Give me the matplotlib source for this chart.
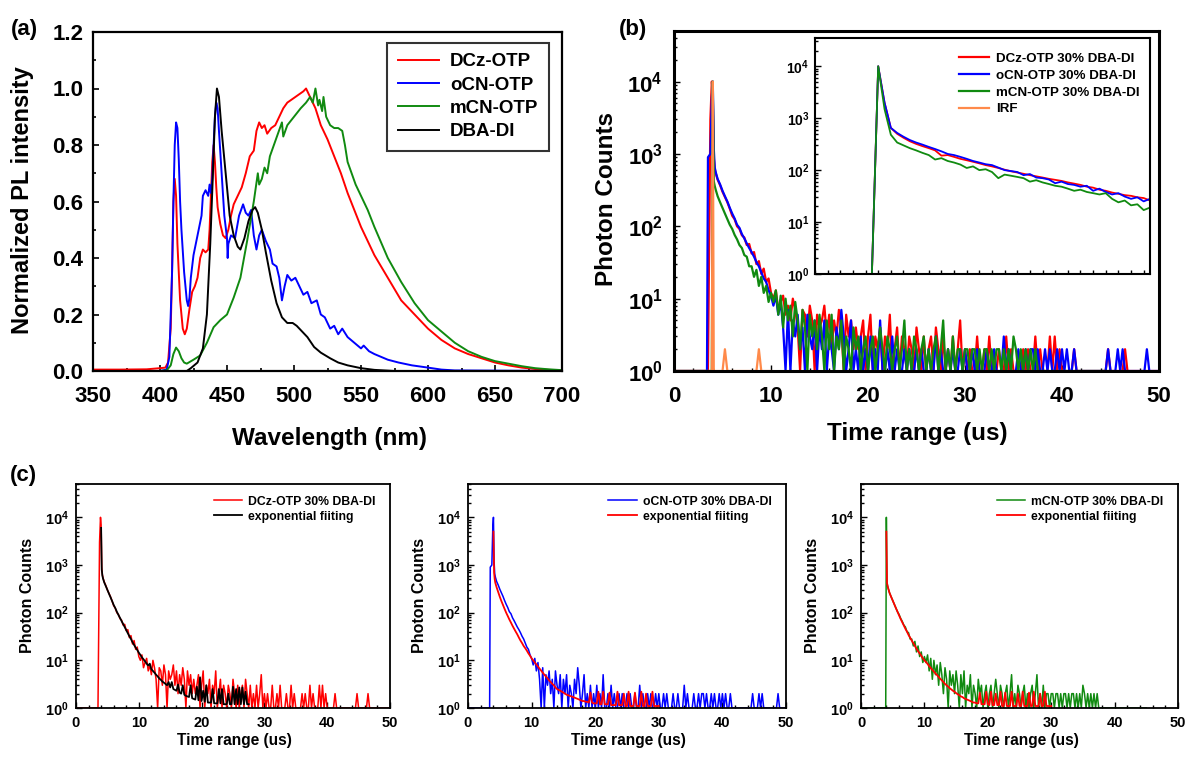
import numpy as np
import matplotlib
matplotlib.use('Agg')
import matplotlib.pyplot as plt
from matplotlib.ticker import MultipleLocator, FixedLocator, LogLocator, FuncFormatter, NullFormatter

plt.rcParams['font.family'] = ['Liberation Sans', 'DejaVu Sans']
plt.rcParams['font.weight'] = 'bold'
plt.rcParams['axes.labelweight'] = 'bold'
plt.rcParams['mathtext.fontset'] = 'custom'
plt.rcParams['mathtext.rm'] = 'Liberation Sans:bold'
plt.rcParams['mathtext.bf'] = 'Liberation Sans:bold'
plt.rcParams['mathtext.it'] = 'Liberation Sans:bold'

RED = '#FF0000'
BLUE = '#0000FF'
GREEN = '#108A10'
ORANGE = '#FF8A4A'
BLACK = '#000000'

# ---------------- (a) PL spectra ----------------
wl_dcz = [350, 370, 390, 400, 404, 406, 408, 409, 410, 411, 412, 413, 415, 417, 418.5, 420, 422, 424, 426, 428,
          430, 432, 434, 436, 437, 438, 439, 440, 441, 442, 443, 445, 447, 449, 451, 453, 455, 458, 461, 464,
          467, 470, 472, 474, 476, 478, 480, 483, 486, 489, 492, 495, 498, 501, 504, 507, 509, 511, 513, 516,
          520, 525, 530, 535, 540, 545, 550, 555, 560, 565, 570, 580, 590, 600, 610, 620, 630, 640, 650, 660,
          670, 680, 690, 700]
pl_dcz = [0.005, 0.005, 0.006, 0.01, 0.012, 0.03, 0.15, 0.35, 0.6, 0.68, 0.62, 0.45, 0.25, 0.15, 0.13, 0.15, 0.22, 0.28, 0.30, 0.33,
          0.40, 0.43, 0.42, 0.43, 0.50, 0.62, 0.74, 0.80, 0.74, 0.65, 0.58, 0.52, 0.48, 0.47, 0.50, 0.55, 0.59, 0.62, 0.65, 0.70,
          0.76, 0.78, 0.85, 0.88, 0.86, 0.87, 0.84, 0.86, 0.87, 0.90, 0.93, 0.95, 0.96, 0.97, 0.98, 0.99, 1.0, 0.98, 0.96, 0.93,
          0.87, 0.82, 0.76, 0.70, 0.63, 0.57, 0.51, 0.46, 0.41, 0.37, 0.33, 0.25, 0.20, 0.15, 0.11, 0.08, 0.06, 0.045, 0.03, 0.02,
          0.012, 0.007, 0.004, 0.002]

wl_ocn = [350, 400, 405, 407, 408, 409, 410, 411, 412, 413, 414, 415, 416, 418, 420, 421, 422, 423, 425, 428,
          431, 432, 434, 436, 437, 438, 439, 440, 441, 442, 443, 444, 446, 448, 450, 450.5, 451, 453, 456, 459,
          462, 464, 466, 468, 470, 472, 474, 476, 479, 482, 484, 487, 489, 491, 493, 495, 498, 501, 504, 507,
          510, 513, 517, 520, 523, 527, 530, 533, 536, 540, 545, 550, 552, 556, 560, 565, 570, 578, 588, 600,
          610, 620, 700]
pl_ocn = [0.0, 0.0, 0.005, 0.05, 0.2, 0.35, 0.6, 0.8, 0.88, 0.86, 0.75, 0.6, 0.5, 0.35, 0.25, 0.23, 0.26, 0.33, 0.41, 0.48,
          0.55, 0.62, 0.64, 0.62, 0.66, 0.63, 0.68, 0.80, 0.90, 0.95, 0.93, 0.85, 0.70, 0.55, 0.47, 0.40, 0.45, 0.48, 0.47, 0.55,
          0.59, 0.56, 0.55, 0.57, 0.48, 0.43, 0.48, 0.50, 0.46, 0.43, 0.38, 0.37, 0.33, 0.25, 0.30, 0.34, 0.32, 0.33, 0.30, 0.27,
          0.28, 0.24, 0.25, 0.20, 0.19, 0.15, 0.16, 0.13, 0.15, 0.12, 0.10, 0.08, 0.09, 0.07, 0.06, 0.05, 0.04, 0.03, 0.02, 0.012,
          0.005, 0.002, 0.0]

wl_mcn = [350, 400, 405, 408, 410, 412, 414, 416, 418, 420, 425, 430, 435, 440, 445, 450, 455, 460, 465, 470,
          473, 474, 476, 478, 480, 482, 485, 488, 491, 492, 495, 500, 505, 509, 512, 514, 516, 518, 519, 521,
          522, 524, 527, 530, 533, 536, 538, 540, 543, 546, 550, 555, 560, 570, 580, 590, 600, 610, 620, 630,
          640, 650, 660, 670, 680, 690, 700]
pl_mcn = [0.0, 0.0, 0.002, 0.02, 0.06, 0.083, 0.07, 0.045, 0.03, 0.026, 0.04, 0.055, 0.10, 0.155, 0.18, 0.20, 0.26, 0.33, 0.46, 0.60,
          0.70, 0.66, 0.68, 0.72, 0.70, 0.76, 0.80, 0.84, 0.88, 0.83, 0.87, 0.90, 0.93, 0.95, 0.97, 0.95, 1.0, 0.94, 0.96, 0.92,
          0.97, 0.90, 0.87, 0.86, 0.86, 0.85, 0.80, 0.74, 0.70, 0.66, 0.62, 0.57, 0.51, 0.40, 0.315, 0.24, 0.18, 0.14, 0.10, 0.07,
          0.05, 0.035, 0.026, 0.017, 0.01, 0.006, 0.003]

wl_dba = [350, 420, 423, 428, 432, 435, 437.5, 439.5, 441, 442.5, 444, 446, 449, 452, 455, 458, 460, 463, 466, 469,
          471, 473, 476, 479, 483, 487, 491, 495, 499, 502, 506, 510, 515, 520, 527, 533, 540, 550, 560, 575,
          700]
pl_dba = [0.0, 0.0, 0.01, 0.03, 0.08, 0.2, 0.45, 0.7, 0.9, 1.0, 0.97, 0.85, 0.7, 0.55, 0.48, 0.44, 0.43, 0.47, 0.53, 0.57,
          0.58, 0.56, 0.50, 0.42, 0.32, 0.24, 0.19, 0.17, 0.17, 0.16, 0.14, 0.12, 0.085, 0.065, 0.045, 0.03, 0.02, 0.01, 0.004, 0.0,
          0.0]

pl_labels = ['DCz-OTP', 'oCN-OTP', 'mCN-OTP', 'DBA-DI']

# ---------------- TRPL decays (b), (c) ----------------
t_head = [0, 3.4, 3.5, 3.75, 3.9, 4.0, 4.1, 4.2, 4.3, 4.5, 4.75, 5.0, 5.25, 5.5, 5.75, 6.0,
          6.25, 6.5, 6.75, 7.0, 7.25, 7.5, 7.75, 8.0, 8.25, 8.5, 8.75, 9.0, 9.25, 9.5, 9.75, 10.0]
t_tail = np.arange(10.25, 50.01, 0.25)

dcz_head = [1, 1, 1, 3000, 10000, 7000, 900, 620, 540, 440, 370, 300, 255, 215, 175, 140,
            125, 100, 92, 75, 70, 55, 57, 42, 44, 30, 33, 22, 26, 17, 19, 12]
dcz_tail = [10, 13, 7, 9, 11, 6, 8, 5, 10, 7, 4, 1, 7, 6, 3, 8, 5, 1, 6, 4,
            5, 8, 3, 6, 2, 5, 3, 7, 4, 1, 6, 3, 5, 2, 4, 2, 3, 5, 1, 3,
            6, 1, 3, 2, 4, 1, 3, 2, 6, 1, 2, 4, 1, 3, 2, 1, 3, 2, 1, 4,
            2, 1, 3, 1, 2, 3, 1, 4, 2, 1, 3, 1, 2, 1, 3, 1, 2, 5, 1, 2,
            1, 2, 1, 1, 3, 1, 1, 2, 1, 3, 1, 1, 1, 2, 1, 1, 3, 1, 2, 1,
            1, 1, 1, 2, 1, 2, 1, 1, 3, 1, 2, 1, 1, 1, 3, 1, 3, 1, 2, 1,
            1, 1, 1, 1, 2, 1, 1, 1, 1, 1, 1, 1, 1, 1, 1, 1, 1, 1, 2, 1,
            1, 1, 1, 1, 1, 2, 1, 1, 1, 1, 1, 1, 1, 1, 1, 1, 1, 1, 1, 1]

ocn_head = [1, 1, 900, 1000, 6000, 10000, 1200, 650, 560, 450, 380, 310, 260, 220, 180, 150,
            128, 105, 95, 78, 68, 58, 50, 44, 38, 32, 28, 23, 19, 17, 13, 11]
ocn_tail = [8, 11, 6, 9, 4, 1, 7, 1, 5, 3, 6, 2, 4, 1, 6, 3, 2, 5, 1, 4,
            2, 5, 1, 3, 2, 1, 4, 2, 7, 3, 1, 2, 5, 1, 2, 1, 3, 1, 2, 1,
            3, 1, 2, 1, 5, 1, 1, 2, 1, 3, 1, 2, 1, 1, 2, 1, 2, 1, 1, 2,
            1, 2, 1, 1, 2, 1, 1, 3, 1, 2, 1, 1, 2, 1, 2, 1, 1, 2, 1, 2,
            1, 1, 2, 1, 2, 1, 1, 1, 2, 1, 1, 2, 1, 1, 1, 3, 1, 2, 1, 1,
            1, 2, 1, 1, 2, 1, 2, 2, 1, 2, 1, 1, 2, 1, 2, 1, 1, 2, 1, 2,
            1, 2, 1, 1, 2, 1, 1, 1, 1, 1, 1, 1, 1, 1, 1, 1, 1, 1, 2, 1,
            1, 1, 2, 1, 2, 1, 1, 1, 1, 1, 1, 1, 1, 1, 2, 1, 1, 1, 1, 1]

mcn_head = [1, 1, 1, 1, 1, 10000, 420, 360, 320, 260, 215, 180, 150, 125, 105, 92,
            76, 66, 55, 50, 40, 38, 28, 28, 20, 25, 15, 20, 12, 15, 9, 12]
mcn_tail = [9, 13, 6, 11, 4, 10, 5, 8, 3, 9, 5, 2, 7, 4, 1, 6, 3, 5, 2, 6,
            3, 1, 5, 2, 6, 1, 3, 2, 5, 1, 3, 2, 1, 4, 2, 3, 1, 2, 3, 1,
            2, 3, 1, 2, 4, 2, 1, 3, 2, 1, 2, 3, 1, 2, 5, 1, 2, 1, 3, 2,
            1, 2, 3, 1, 2, 1, 2, 3, 1, 2, 5, 1, 2, 1, 3, 1, 2, 2, 1, 2,
            2, 1, 2, 2, 1, 2, 1, 2, 2, 1, 2, 1, 2, 2, 1, 2, 1, 2, 1, 3,
            2, 1, 2, 1, 2, 1, 2, 1, 2, 1, 1, 1, 1, 1, 1, 1, 1, 1, 1, 1,
            1, 1, 1, 1, 1, 1, 1, 1, 1, 1, 1, 1, 1, 1, 1, 1, 1, 1, 1, 1]

irf_head = [1, 1, 1, 1, 1, 10000, 1, 1, 1, 1, 1, 1, 2, 1, 1, 1,
            1, 1, 1, 1, 1, 1, 1, 1, 1, 1, 2, 1, 1, 1, 1, 1]

# exponential fits (start at t = 4.0)
fit_dcz_head = [6000, 800, 600, 520, 430, 360, 300, 250, 210, 175, 145, 125, 105, 90, 78, 67,
                58, 50, 43, 37, 32, 28, 24, 21, 18.5, 16.5, 14.5]
fit_dcz_tail = [13, 11.5, 10.5, 9.5, 8.5, 7.8, 8.5, 6.5, 6, 5.5, 5, 4.6, 4.2, 3.9, 3.6, 3.4, 3.2, 3.0, 3.5, 2.7,
                3.5, 2.5, 2.4, 2.3, 3.1, 2.1, 2.0, 3.0, 1.9, 1.8, 1.75, 1.7, 3.0, 1.6, 1.55, 1.5, 2.8, 1.45, 4.4, 1.4,
                2.3, 1.35, 3.0, 1.3, 1.3, 1.3, 2.5, 1.25, 1.25, 1.25, 2.5, 1.25, 2.5, 1.2, 1.2, 1.2, 2.0, 1.2, 1.2, 2.8,
                1.2, 2.5, 1.2, 2.7, 1.2, 2.7, 1.2, 2.2, 1.2, 1.2]
fit_ocn_head = [5000, 700, 500, 420, 340, 270, 215, 175, 145, 120, 100, 85, 72, 62, 53, 46,
                40, 35, 30, 26, 23, 20, 18, 16, 14, 12.5, 11]
fit_ocn_tail = [10, 9, 8.2, 7.4, 6.7, 6.1, 5.5, 5.0, 4.6, 4.2, 3.8, 3.5, 3.2, 3.0, 2.7, 2.5, 2.4, 2.3, 2.2, 2.1,
                2.0, 1.9, 1.85, 1.8, 1.75, 1.7, 1.65, 1.6, 1.55, 1.5, 1.45, 1.4, 1.4, 1.35, 1.35, 1.3, 2.1, 1.3, 1.25, 1.25,
                1.25, 2.2, 1.2, 1.2, 2.2, 1.2, 1.2, 1.2, 2.1, 1.15, 1.15, 1.15, 1.15, 2.2, 1.15, 1.15, 1.15, 2.0, 1.1, 1.1,
                2.2, 1.1, 1.1, 1.1, 2.1, 1.1, 1.1, 1.1, 2.2, 1.1, 1.1, 2.0, 1.1, 1.1, 1.1, 2.2, 1.1, 1.1, 1.1, 1.1]
fit_mcn_head = [5000, 420, 360, 320, 260, 215, 180, 150, 125, 105, 88, 74, 63, 54, 46, 40,
                34, 30, 26, 23, 20, 17.5, 15.5, 14, 12.5, 11, 10]
fit_mcn_tail = [9.2, 8.4, 7.6, 6.9, 6.3, 5.8, 5.3, 4.9, 4.5, 4.1, 3.8, 3.5, 3.2, 3.0, 2.8, 2.6, 2.45, 2.3, 2.2, 2.05,
                1.95, 1.85, 1.75, 1.7, 1.6, 1.55, 1.5, 1.45, 1.4, 1.35, 1.3, 1.3, 1.25, 1.25, 2.1, 1.2, 1.2, 1.2, 2.2, 1.2,
                1.15, 2.2, 1.15, 1.15, 2.0, 1.15, 1.15, 2.2, 1.1, 1.1, 2.1, 1.1, 1.1, 1.1, 2.2, 1.1, 1.1, 1.1, 2.0, 1.1,
                1.1, 2.2, 1.1, 1.1, 1.1, 2.1, 1.1, 1.1, 2.2, 1.1, 1.1, 1.1, 2.0, 1.1, 1.1, 2.2, 1.1, 1.1, 1.1, 1.1]

# inset (short time window, arbitrary units)
t_inset = np.arange(0, 26.51, 0.5)
dcz_inset = [1, 1, 1, 1, 1, 1, 1, 1, 1, 1, 10000, 2000, 650, 500, 420, 360, 320, 290, 265, 240,
             190, 195, 180, 165, 155, 145, 135, 125, 118, 110, 102, 95, 90, 85, 80, 76, 72, 68, 65, 62,
             58, 55, 52, 48, 46, 42, 40, 37, 35, 33, 32, 30, 29, 26]
ocn_inset = [1, 1, 1, 1, 1, 1, 1, 1, 1, 1, 10000, 2000, 650, 520, 440, 380, 340, 310, 280, 255,
             230, 205, 195, 180, 165, 150, 140, 130, 125, 112, 100, 96, 92, 80, 84, 72, 70, 66, 56, 60,
             54, 52, 48, 50, 40, 44, 38, 34, 36, 31, 28, 30, 25, 28]
mcn_inset = [1, 1, 1, 1, 1, 1, 1, 1, 1, 1, 10000, 1500, 480, 340, 300, 265, 240, 215, 195, 160,
             170, 150, 140, 128, 110, 118, 100, 104, 92, 70, 82, 78, 74, 70, 60, 64, 58, 54, 50, 48,
             44, 40, 42, 38, 36, 34, 36, 28, 24, 26, 21, 22, 17, 19]

decay_labels = ['DCz-OTP 30% DBA-DI', 'oCN-OTP 30% DBA-DI', 'mCN-OTP 30% DBA-DI', 'IRF']
fit_label = 'exponential fiiting'


def logfmt(v, pos):
    e = int(round(np.log10(v)))
    return r'$\mathbf{10^{%d}}$' % e


def style_log_axis(ax, fs, pad_x, pad_y, spine_lw):
    ax.set_yscale('log')
    ax.yaxis.set_major_locator(FixedLocator([1, 10, 100, 1000, 10000]))
    ax.yaxis.set_major_formatter(FuncFormatter(logfmt))
    ax.yaxis.set_minor_locator(LogLocator(base=10, subs=np.arange(2, 10)))
    ax.yaxis.set_minor_formatter(NullFormatter())
    ax.tick_params(axis='both', which='both', direction='in', top=False, right=False, width=1.0)
    ax.tick_params(axis='both', which='major', length=4)
    ax.tick_params(axis='both', which='minor', length=2.5)
    ax.tick_params(axis='x', which='major', labelsize=fs, pad=pad_x)
    ax.tick_params(axis='y', which='major', labelsize=fs, pad=pad_y)
    for s in ax.spines.values():
        s.set_linewidth(spine_lw)


W, H = 1189, 758
fig = plt.figure(figsize=(W / 100, H / 100), dpi=100)


def axes_px(x0, y0, x1, y1):
    return fig.add_axes([x0 / W, 1 - y1 / H, (x1 - x0) / W, (y1 - y0) / H])


# ---------------- panel (a) ----------------
axa = axes_px(93, 32, 562, 371)
for wl, pl, col, lab in zip([wl_dcz, wl_ocn, wl_mcn, wl_dba], [pl_dcz, pl_ocn, pl_mcn, pl_dba],
                            [RED, BLUE, GREEN, BLACK], pl_labels):
    axa.plot(wl, pl, color=col, lw=1.4, label=lab)
axa.set_xlim(350, 700)
axa.set_ylim(0, 1.2)
axa.xaxis.set_major_locator(MultipleLocator(50))
axa.xaxis.set_minor_locator(MultipleLocator(25))
axa.yaxis.set_major_locator(MultipleLocator(0.2))
axa.yaxis.set_minor_locator(MultipleLocator(0.1))
axa.yaxis.set_major_formatter(FuncFormatter(lambda v, p: '%.1f' % v))
axa.tick_params(axis='both', which='both', direction='in', width=1.2)
axa.tick_params(axis='both', which='major', length=4)
axa.tick_params(axis='both', which='minor', length=2.5)
axa.tick_params(axis='x', which='major', labelsize=16, pad=11)
axa.tick_params(axis='y', which='major', labelsize=16, pad=7)
for s in axa.spines.values():
    s.set_linewidth(1.6)
axa.set_xlabel('Wavelength (nm)', fontsize=17.5, fontweight='bold', va='center')
axa.xaxis.set_label_coords(0.505, -0.20)
axa.set_ylabel('Normalized PL intensity', fontsize=17, fontweight='bold', va='center')
axa.yaxis.set_label_coords(-0.151, 0.504)
lega = axa.legend(loc='upper right', bbox_to_anchor=(0.972, 0.968), borderaxespad=0,
                  fontsize=13.5, frameon=True, fancybox=False, edgecolor='black',
                  handlelength=2.2, handletextpad=0.6, labelspacing=0.33, borderpad=0.55)
lega.get_frame().set_linewidth(1.5)
for tx in lega.get_texts():
    tx.set_fontweight('bold')

# ---------------- panel (b) ----------------
axb = axes_px(674, 31, 1159, 371)
bl = []
for head, tail, col in zip([dcz_head, ocn_head, mcn_head], [dcz_tail, ocn_tail, mcn_tail], [RED, BLUE, GREEN]):
    tt = np.concatenate([t_head, t_tail[:len(tail)]])
    yy = np.concatenate([head, tail])
    ln, = axb.plot(tt, yy, color=col, lw=1.6)
    bl.append(ln)
ln, = axb.plot(t_head, irf_head, color=ORANGE, lw=1.6)
bl.append(ln)
axb.set_xlim(0, 50)
axb.set_ylim(1, 5e4)
axb.xaxis.set_major_locator(MultipleLocator(10))
axb.xaxis.set_minor_locator(MultipleLocator(2))
style_log_axis(axb, 16, 11, 8, 2.2)
axb.set_xlabel('Time range (us)', fontsize=17.5, fontweight='bold', va='center')
axb.xaxis.set_label_coords(0.501, -0.185)
axb.set_ylabel('Photon Counts', fontsize=17.5, fontweight='bold', va='center')
axb.yaxis.set_label_coords(-0.140, 0.506)

# inset
axi = axes_px(815, 38, 1150, 274)
for vals, col in zip([dcz_inset, ocn_inset, mcn_inset], [RED, BLUE, GREEN]):
    axi.plot(t_inset, vals, color=col, lw=1.3)
axi.set_xlim(0, 26.5)
axi.set_ylim(1, 3.5e4)
axi.xaxis.set_major_locator(MultipleLocator(1))
axi.xaxis.set_major_formatter(NullFormatter())
style_log_axis(axi, 10, 4, 4, 1.5)
axi.tick_params(axis='x', which='major', length=3)
legi = axi.legend(bl, decay_labels, loc='upper right', bbox_to_anchor=(0.985, 0.96), borderaxespad=0,
                  fontsize=9.6, frameon=False, handlelength=2.3, handletextpad=0.5, labelspacing=0.33)
for tx in legi.get_texts():
    tx.set_fontweight('bold')

# ---------------- panel (c) ----------------
c_boxes = [(76, 484, 390, 708), (468, 484, 786, 708), (861, 484, 1178, 708)]
c_heads = [dcz_head, ocn_head, mcn_head]
c_tails = [dcz_tail, ocn_tail, mcn_tail]
c_cols = [RED, BLUE, GREEN]
f_heads = [fit_dcz_head, fit_ocn_head, fit_mcn_head]
f_tails = [fit_dcz_tail, fit_ocn_tail, fit_mcn_tail]
f_cols = [BLACK, RED, RED]
for i in range(3):
    ax = axes_px(*c_boxes[i])
    tt = np.concatenate([t_head, t_tail[:len(c_tails[i])]])
    yy = np.concatenate([c_heads[i], c_tails[i]])
    ax.plot(tt, yy, color=c_cols[i], lw=1.1, label=decay_labels[i])
    ft = np.concatenate([t_head[5:], t_tail[:len(f_tails[i])]])
    fy = np.concatenate([f_heads[i], f_tails[i]])
    ax.plot(ft, fy, color=f_cols[i], lw=1.3, label=fit_label)
    ax.set_xlim(0, 50)
    ax.set_ylim(1, 5e4)
    ax.xaxis.set_major_locator(MultipleLocator(10))
    ax.xaxis.set_minor_locator(MultipleLocator(2))
    style_log_axis(ax, 10.5, 6, 5, 1.3)
    ax.set_xlabel('Time range (us)', fontsize=11.2, fontweight='bold', va='center')
    ax.xaxis.set_label_coords(0.506, -0.147)
    ax.set_ylabel('Photon Counts', fontsize=11.5, fontweight='bold', va='center')
    ax.yaxis.set_label_coords(-0.153, 0.504)
    lg = ax.legend(loc='upper right', bbox_to_anchor=(0.97, 0.97), borderaxespad=0, fontsize=8.8,
                   frameon=False, handlelength=2.3, handletextpad=0.5, labelspacing=0.25)
    for tx in lg.get_texts():
        tx.set_fontweight('bold')

# panel letters
fig.text(11 / W, 1 - 30 / H, '(a)', fontsize=16, fontweight='bold', va='center', ha='left')
fig.text(619 / W, 1 - 30 / H, '(b)', fontsize=16, fontweight='bold', va='center', ha='left')
fig.text(10 / W, 1 - 476 / H, '(c)', fontsize=16, fontweight='bold', va='center', ha='left')

fig.savefig('out.png', dpi=100, facecolor='white')
